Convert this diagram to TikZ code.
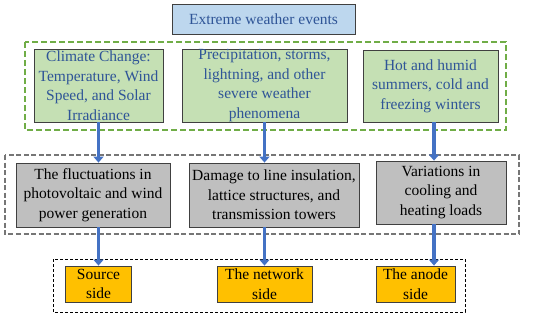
\documentclass[tikz,border=0pt]{standalone}
\usepackage{fontspec}
\setmainfont{Liberation Serif}
\usetikzlibrary{arrows.meta}
\definecolor{titlefill}{RGB}{189,215,238}
\definecolor{titletext}{RGB}{47,85,151}
\definecolor{greenfill}{RGB}{197,224,180}
\definecolor{greendash}{RGB}{112,173,71}
\definecolor{grayfill}{RGB}{191,191,191}
\definecolor{graydash}{RGB}{118,118,118}
\definecolor{orangefill}{RGB}{255,192,0}
\definecolor{flowblue}{RGB}{68,114,196}
\definecolor{edge}{RGB}{64,64,64}
\tikzset{
  box/.style={draw=edge, line width=0.8pt, align=center, inner sep=0pt,
    font=\fontsize{15.5}{19.5}\selectfont},
  causebox/.style={box, fill=greenfill, text=titletext},
  effectbox/.style={box, fill=grayfill},
  sidebox/.style={box, fill=orangefill},
  flow/.style={flowblue, line width=3.5pt, -{Triangle[width=10pt,length=6pt]}},
  group/.style={line width=1.8pt, dash pattern=on 6pt off 3pt}
}
\begin{document}
\begin{tikzpicture}[x=1pt, y=-1pt]
    \useasboundingbox (0,0) rectangle (550,316);
    % top
    \node[box, fill=titlefill, text=titletext, minimum width=183pt, minimum height=30pt] (top) at (263.5,19) {Extreme weather events};
    % causes
    \draw[group, greendash] (25,42) rectangle (506,130);
    \node[causebox, minimum width=129pt, minimum height=73pt] (c1) at (98.5,85.5) {Climate Change:\\Temperature, Wind\\Speed, and Solar\\Irradiance};
    \node[causebox, minimum width=165pt, minimum height=73pt] (c2) at (264.5,85.5) {Precipitation, storms,\\lightning, and other\\severe weather\\phenomena};
    \node[causebox, minimum width=135pt, minimum height=72pt] (c3) at (430.5,86) {Hot and humid\\summers, cold and\\freezing winters};
    % effects
    \draw[group, graydash, dash pattern=on 5pt off 2.5pt] (5,155) rectangle (519,234);
    \node[effectbox, minimum width=154pt, minimum height=64pt] (e1) at (93,195) {The fluctuations in\\photovoltaic and wind\\power generation};
    \node[effectbox, minimum width=170pt, minimum height=64pt] (e2) at (274,195) {Damage to line insulation,\\lattice structures, and\\transmission towers};
    \node[effectbox, minimum width=130pt, minimum height=63pt] (e3) at (441,192.5) {Variations in\\cooling and\\heating loads};
    % sides
    \draw[group, black, line width=1pt, dash pattern=on 3pt off 2pt] (53,259) rectangle (465,312);
    \node[sidebox, minimum width=66pt, minimum height=36pt] (s1) at (98.5,284) {Source\\side};
    \node[sidebox, minimum width=95pt, minimum height=36pt] (s2) at (264.5,284) {The network\\side};
    \node[sidebox, minimum width=79pt, minimum height=36pt] (s3) at (415.5,284) {The anode\\side};
    % arrows
    \draw[flow] (c1.south) -- (c1.south |- e1.north);
    \draw[flow] (c2.south) -- (c2.south |- e2.north);
    \draw[flow] ([xshift=3.5pt]c3.south) -- ([xshift=3.5pt]c3.south |- e3.north);
    \draw[flow] (e1.south -| s1.north) -- (s1.north);
    \draw[flow] (e2.south -| s2.north) -- (s2.north);
    \draw[flow] ([xshift=3.5pt]e3.south -| c3.south) -- ([xshift=3.5pt]c3.south |- s3.north);
\end{tikzpicture}
\end{document}
